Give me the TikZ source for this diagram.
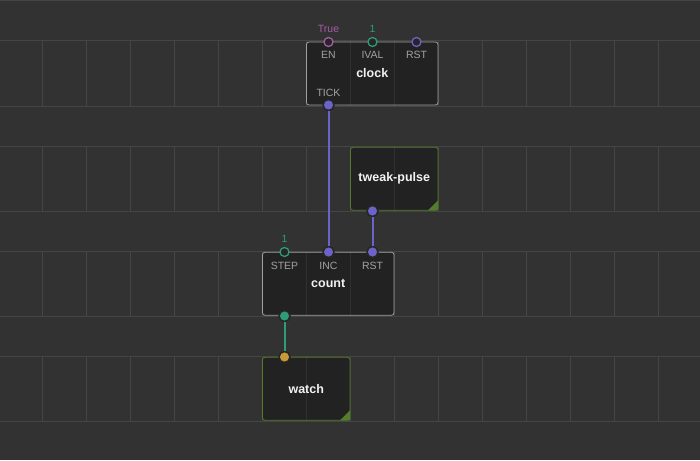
\documentclass[tikz,border=0pt]{standalone}
\usepackage{fontspec}
\setmainfont{Liberation Sans}

\definecolor{canvas}{HTML}{323232}
\definecolor{gridline}{HTML}{454545}
\definecolor{edgegray}{HTML}{A0A0A0}
\definecolor{widgetgreen}{HTML}{527D2B}
\definecolor{labelgray}{HTML}{A2A2A2}
\definecolor{titlewhite}{HTML}{F2F2F2}
\definecolor{pinring}{HTML}{262626}
\definecolor{pulsepurple}{HTML}{6C63C8}
\definecolor{numgreen}{HTML}{2E9C78}
\definecolor{boolpink}{HTML}{A65BA6}
\definecolor{anyorange}{HTML}{C99A35}

\begin{document}
\begin{tikzpicture}[
        x=1pt, y=-1pt,
        gridline/.style={draw=gridline, line width=1pt},
        patch/.style={draw=edgegray, line width=0.8pt, rounded corners=2.5pt,
            fill=black, fill opacity=0.3, text opacity=1, text=titlewhite,
            font=\bfseries\fontsize{12.5}{15}\selectfont,
            minimum height=63pt, inner sep=0pt},
        widget/.style={patch, draw=widgetgreen},
        pinfull/.style={circle, minimum size=11pt, inner sep=0pt,
            draw=pinring, line width=1.5pt, fill=#1},
        pinhollow/.style={circle, minimum size=9pt, inner sep=0pt,
            draw=#1, line width=1.3pt, fill=pinring},
        pinlabel/.style={text=labelgray, font=\fontsize{10.5}{12}\selectfont, inner sep=0pt},
        pinvalue/.style={text=#1, font=\fontsize{10.5}{12}\selectfont, inner sep=0pt},
        link/.style={draw=#1, line width=2pt}
    ]

    \useasboundingbox (0,0) rectangle (700,460);
    \fill[canvas] (0,0) rectangle (700,460);

    % grid
    \foreach \gy in {1,41,106,146,211,251,316,356,421}
        \draw[gridline] (0,\gy) -- (700,\gy);
    \foreach \ry in {-64,41,146,251,356}
        \foreach \gx in {42.5,86.5,...,658.5}
            \draw[gridline] (\gx,\ry) -- (\gx,\ry+65);

    % patch nodes
    \node[patch, minimum width=131.5pt] (clock) at (372.25,73.5) {clock};
    \node[patch, minimum width=131.5pt] (count) at (328.25,283.75) {count};
    \node[widget, minimum width=87.5pt] (tweak) at (394.25,178.75) {tweak-pulse};
    \node[widget, minimum width=87.5pt] (watch) at (306.25,388.75) {watch};

    \foreach \w in {tweak,watch}
        \fill[widgetgreen] ([shift={(-0.4,-0.4)}]\w.south east) -- ++(-10,0) -- ++(10,-10) -- cycle;

    % clock
    \node[pinhollow=boolpink] (clockEN) at (328.5,42) {};
    \node[pinhollow=numgreen] (clockIVAL) at (372.5,42) {};
    \node[pinhollow=pulsepurple] (clockRST) at (416.5,42) {};
    \node[pinfull=pulsepurple] (clockTICK) at (328.5,105) {};

    \foreach \p/\x in {EN/328.5,IVAL/372.5,RST/416.5}
        \node[pinlabel] (clock\p label) at (\x,54.7) {\p};
    \node[pinlabel] (clockTICKlabel) at (328.5,93.3) {TICK};
    \node[pinvalue=boolpink] (clockENvalue) at (328.5,29.2) {True};
    \node[pinvalue=numgreen] (clockIVALvalue) at (372.5,29.2) {1};

    % tweak-pulse
    \node[pinfull=pulsepurple] (tweakOUT) at (372.5,211) {};

    % count
    \node[pinhollow=numgreen] (countSTEP) at (284.5,252) {};
    \node[pinfull=pulsepurple] (countINC) at (328.5,252) {};
    \node[pinfull=pulsepurple] (countRST) at (372.5,252) {};
    \node[pinfull=numgreen] (countOUT) at (284.5,316) {};

    \foreach \p/\x in {STEP/284.5,INC/328.5,RST/372.5}
        \node[pinlabel] (count\p label) at (\x,265.7) {\p};
    \node[pinvalue=numgreen] (countSTEPvalue) at (284.5,239.3) {1};

    % watch
    \node[pinfull=anyorange] (watchIN) at (284.5,357) {};

    % links
    \draw[link=pulsepurple] (clockTICK) -- (countINC);
    \draw[link=pulsepurple] (tweakOUT) -- (countRST);
    \draw[link=numgreen] (countOUT) -- (watchIN);

\end{tikzpicture}
\end{document}
